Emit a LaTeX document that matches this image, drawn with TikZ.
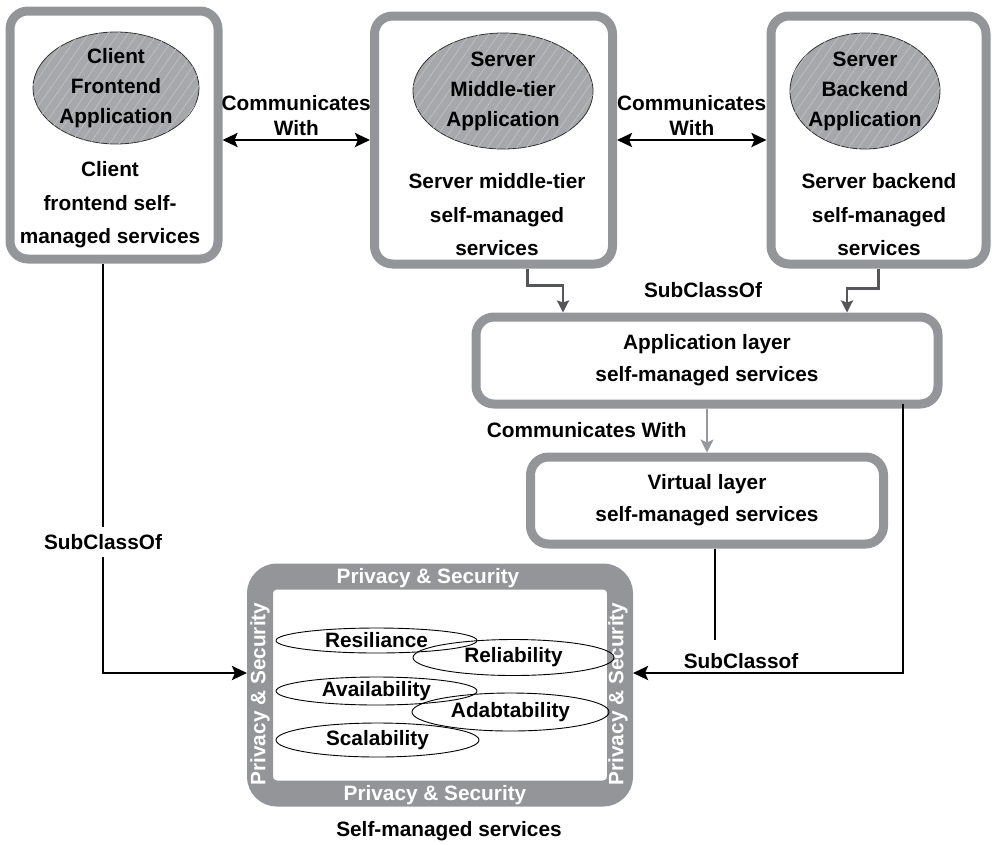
\documentclass[tikz,border=0pt]{standalone}
\usepackage{fontspec}
\setmainfont{Liberation Sans}
\usetikzlibrary{positioning,shapes.geometric,arrows.meta,patterns.meta}

\definecolor{framegray}{RGB}{147,149,152}
\definecolor{ellgray}{RGB}{166,168,171}
\definecolor{hatchgray}{RGB}{188,190,193}
\definecolor{arrowdark}{RGB}{85,86,89}
\definecolor{arrowlight}{RGB}{150,152,155}

\begin{document}
\begin{tikzpicture}[x=1pt, y=-1pt,
    font=\bfseries\fontsize{20.8}{25}\selectfont,
    layerbox/.style={draw=framegray, line width=9pt, rounded corners=18pt},
    appell/.style={ellipse, draw=black!80, line width=0.8pt, fill=ellgray, inner sep=-6pt, align=center,
        font=\bfseries\fontsize{20.8}{30}\selectfont,
        postaction={pattern={Lines[angle=55,distance=8pt,line width=0.8pt]}, pattern color=hatchgray}},
    boxtext/.style={align=center, font=\bfseries\fontsize{20.8}{33.5}\selectfont},
    laytext/.style={align=center, font=\bfseries\fontsize{20.8}{32}\selectfont},
    quality/.style={ellipse, draw=black, line width=0.9pt, inner sep=0pt},
    guard/.style={text=white},
    comm/.style={draw=black, line width=2.6pt, {Stealth[length=15pt,width=14pt,inset=3pt]}-{Stealth[length=15pt,width=14pt,inset=3pt]}},
    subline/.style={draw=black, line width=2.8pt, -{Stealth[length=15pt,width=14pt,inset=3pt]}},
    subgray/.style={draw=arrowdark, line width=2.6pt, -{Stealth[length=12pt,width=12pt,inset=2pt]}},
    commgray/.style={draw=arrowlight, line width=2.2pt, -{Stealth[length=13pt,width=13pt,inset=3pt]}}]
    \useasboundingbox (0,0) rectangle (992,844);

    % top row
    \node(box1)[layerbox, minimum width=208pt, minimum height=248pt] at (114,135) {};
    \node(box2)[layerbox, minimum width=238pt, minimum height=248pt] at (493.5,140) {};
    \node(box3)[layerbox, minimum width=215pt, minimum height=248pt, right of=box2, node distance=385pt] {};
    \node(client)[appell, minimum width=166pt, minimum height=112pt] at (116,88) {Client\\Frontend\\Application};
    \node(middle)[appell, minimum width=180pt, minimum height=116pt] at (503,91) {Server\\Middle-tier\\Application};
    \node(backend)[appell, minimum width=150pt, minimum height=116pt] at (865,91) {Server\\Backend\\Application};
    \node(clientsm)[boxtext] at (110,205) {Client\\frontend self-\\managed services};
    \node(middlesm)[boxtext] at (497,215) {Server middle-tier\\self-managed\\services};
    \node(backendsm)[boxtext] at (879,215) {Server backend\\self-managed\\services};

    % layers
    \node(applayer)[layerbox, laytext, minimum width=462pt, minimum height=87pt] at (707,360.5) {Application layer\\self-managed services};
    \node(virtlayer)[layerbox, laytext, minimum width=353pt, minimum height=87pt, below of=applayer, node distance=140pt] {Virtual layer\\self-managed services};

    % self-managed services
    \node(priv)[draw=framegray, line width=26pt, rounded corners=17pt, minimum width=360pt, minimum height=217pt] at (440,685) {};
    \node(ptop)[guard] at (428,578) {Privacy \& Security};
    \node(pbot)[guard] at (435,795) {Privacy \& Security};
    \node(pleft)[guard, rotate=90] at (260,694) {Privacy \& Security};
    \node(pright)[guard, rotate=90] at (618,694) {Privacy \& Security};
    \node(res)[quality, minimum width=201pt, minimum height=25pt] at (376.5,640.5) {Resiliance};
    \node(rel)[quality, minimum width=201pt, minimum height=36pt] at (513.5,657.5) {Reliability};
    \node(avail)[quality, minimum width=201pt, minimum height=28pt] at (376.5,691) {Availability};
    \node(adapt)[quality, minimum width=197pt, minimum height=38pt] at (510.5,712) {Adabtability};
    \node(scal)[quality, minimum width=203pt, minimum height=34pt] at (377.5,740) {Scalability};
    \node(selfms)[below=11pt of priv, xshift=9pt] {Self-managed services};

    % connectors
    \draw[comm] (box1.east |- box2.west) -- (box2.west) node[midway, above, align=center] {Communicates\\With};
    \draw[comm] (box2.east) -- (box3.west) node[midway, above, align=center] {Communicates\\With};
    \draw[subgray] ([xshift=34pt]box2.south) -- ++(0,17) -| ([xshift=-144pt]applayer.north);
    \draw[subgray] (box3.south) -- ++(0,20) -| ([xshift=140pt]applayer.north);
    \node(subtop) at (703,290) {SubClassOf};
    \draw[commgray] (applayer.south) -- (applayer.south |- virtlayer.north) node[midway, left=16pt] {Communicates With};
    \coordinate(vend) at (715,640);
    \draw[line width=2.6pt] ([xshift=8pt]virtlayer.south) -- (vend);
    \draw[subline] ([xshift=-39.5pt, yshift=4.5pt]applayer.south east) |- ([yshift=12pt]priv.east) node[pos=0.8, above] {SubClassof};
    \draw[subline] ([xshift=-11pt]box1.south) |- ([yshift=12pt]priv.west) node[pos=0.34, fill=white, inner ysep=7pt] {SubClassOf};
  \end{tikzpicture}
\end{document}
